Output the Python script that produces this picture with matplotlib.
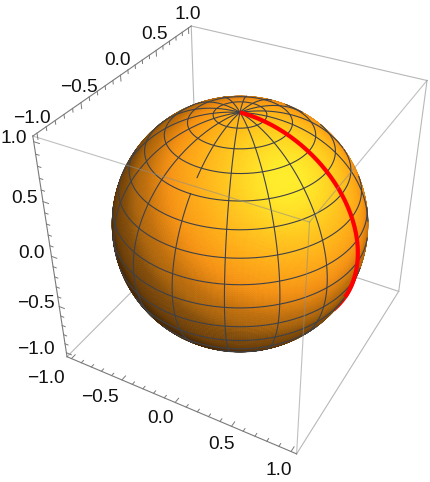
import numpy as np
import matplotlib
matplotlib.use("Agg")
import matplotlib.pyplot as plt
from matplotlib.colors import LinearSegmentedColormap
from mpl_toolkits.mplot3d import proj3d
from mpl_toolkits.mplot3d.art3d import Poly3DCollection

plt.rcParams['font.family'] = ['Liberation Sans', 'DejaVu Sans']

# --- chart content -------------------------------------------------------
major_ticks = [-1.0, -0.5, 0.0, 0.5, 1.0]
major_labels = ['\u22121.0', '\u22120.5', '0.0', '0.5', '1.0']
minor_ticks = [-0.9, -0.8, -0.7, -0.6, -0.4, -0.3, -0.2, -0.1,
               0.1, 0.2, 0.3, 0.4, 0.6, 0.7, 0.8, 0.9]
ring_colatitudes_deg = [11.25, 22.5, 33.75, 45, 56.25, 67.5, 78.75, 90,
                        101.25, 112.5, 123.75, 135, 146.25, 157.5, 168.75]
meridian_longitudes_deg = [0, 22.5, 45, 67.5, 90, 112.5, 135, 157.5, 180,
                           202.5, 225, 247.5, 270, 292.5, 315, 337.5]
gap_longitude_deg = 270
gap_colatitude_deg = [38, 45]
red_curve_longitude_deg = 0

shade_levels = [0.0, 0.12, 0.25, 0.38, 0.50, 0.62, 0.75, 0.88, 1.0]
shade_colors = ['#37200a', '#5f3708', '#96580a', '#cd760c', '#f59112',
                '#ffac16', '#ffcd1e', '#ffeb28', '#fff02d']
light_in = [-0.3, -0.14, 0.0, 0.25, 0.38, 0.49, 0.57, 0.68, 0.9, 1.0]
light_out = [0.05, 0.06, 0.14, 0.21, 0.30, 0.35, 0.42, 0.52, 0.70, 0.80]

# --- camera and layout ---------------------------------------------------
W, H = 431, 482
ELEV, AZIM = 36.0, -61.25
CAM_DIST = 7.16        # sphere radii
FOCAL_PX = 907.0
BOX = 1.045
CENTER_PX = (240.0, 224.0)

fig = plt.figure(figsize=(W / 100, H / 100), dpi=100)
ax = fig.add_axes([0, 0, 1, 1], projection='3d', computed_zorder=False)
ax.set_axis_off()
ax.set_xlim(-BOX, BOX, view_margin=0)
ax.set_ylim(-BOX, BOX, view_margin=0)
ax.set_zlim(-BOX, BOX, view_margin=0)
ax.view_init(elev=ELEV, azim=AZIM)

# place a square axes, then solve focal length and zoom from the camera
side = 482.0
ax.set_position([(W - side) / 2 / W, 0, side / W, 1.0])
ax.apply_aspect()
a, b = ax.transData.transform([[0, 0], [1, 1]])
px_per_unit = (b - a)[0]
focal = FOCAL_PX / px_per_unit
s = 10 * focal / CAM_DIST
zoom = 2 * BOX * s / (1.8294640721620434 * 25 / 24 / np.sqrt(3))
ax.set_proj_type('persp', focal_length=focal)
ax.set_box_aspect((1, 1, 1), zoom=zoom)
ox, oy = a
left = ((W - side) / 2 + (CENTER_PX[0] - ox)) / W
bottom = ((H - CENTER_PX[1]) - oy) / H
ax.set_position([left, bottom, side / W, side / H])
ax.apply_aspect()

# view basis
e, z = np.radians(ELEV), np.radians(AZIM)
n_vec = np.array([np.cos(e) * np.cos(z), np.cos(e) * np.sin(z), np.sin(e)])
r_vec = np.array([-np.sin(z), np.cos(z), 0.0])
u_vec = np.cross(n_vec, r_vec)


def visible(x, y, zz):
    return x * n_vec[0] + y * n_vec[1] + zz * n_vec[2] > 1 / CAM_DIST


# --- sphere --------------------------------------------------------------
th = np.linspace(0, np.pi, 181)
ph = np.linspace(0, 2 * np.pi, 361)
PH, TH = np.meshgrid(ph, th)
X, Y, Z = np.sin(TH) * np.cos(PH), np.sin(TH) * np.sin(PH), np.cos(TH)
P = np.dstack([X, Y, Z])
quads = np.stack([P[:-1, :-1], P[:-1, 1:], P[1:, 1:], P[1:, :-1]], axis=2)
mid = quads.mean(axis=2)
mid /= np.linalg.norm(mid, axis=2, keepdims=True)
nr, nu, nn = mid @ r_vec, mid @ u_vec, mid @ n_vec

shade = LinearSegmentedColormap.from_list('shade', list(zip(shade_levels, shade_colors)))
v = 0.33 * nr + 0.35 * nu + 0.88 * nn
level = np.interp(v, light_in, light_out)
level = level + 0.10 * np.exp(-((nr - 0.31) ** 2 + (nu - 0.27) ** 2) / 0.08)
cols = shade(np.clip(level, 0, 1))
keep = nn > 1 / CAM_DIST - 0.012
surf = Poly3DCollection(quads[keep], facecolors=cols[keep], edgecolors=cols[keep],
                        linewidths=0.4, zorder=2)
ax.add_collection3d(surf, autolim=False)

# --- mesh ----------------------------------------------------------------
MESH = '#3f4148'
t = np.linspace(0, 2 * np.pi, 361)
for c in ring_colatitudes_deg:
    c = np.radians(c)
    x, y, zz = np.sin(c) * np.cos(t), np.sin(c) * np.sin(t), np.cos(c) * np.ones_like(t)
    m = visible(x, y, zz)
    ax.plot(np.where(m, x, np.nan), np.where(m, y, np.nan), np.where(m, zz, np.nan),
            color=MESH, lw=0.8, zorder=3)
t = np.linspace(0, np.pi, 181)
for lon in meridian_longitudes_deg:
    l = np.radians(lon)
    x, y, zz = np.sin(t) * np.cos(l), np.sin(t) * np.sin(l), np.cos(t)
    m = visible(x, y, zz)
    if lon == gap_longitude_deg:
        m &= ~((t > np.radians(gap_colatitude_deg[0])) & (t < np.radians(gap_colatitude_deg[1])))
    ax.plot(np.where(m, x, np.nan), np.where(m, y, np.nan), np.where(m, zz, np.nan),
            color=MESH, lw=0.8, zorder=3)

# red curve: the part just past the horizon peeks out from behind the rim
l = np.radians(red_curve_longitude_deg)
x, y, zz = np.sin(t) * np.cos(l), np.sin(t) * np.sin(l), np.cos(t)
m = visible(x, y, zz)
ax.plot(np.where(m, x, np.nan), np.where(m, y, np.nan), np.where(m, zz, np.nan),
        color='#ff0000', lw=3.0, zorder=4, solid_capstyle='butt')
depth = x * n_vec[0] + y * n_vec[1] + zz * n_vec[2]
m2 = depth > 0
ax.plot(np.where(m2, x, np.nan), np.where(m2, y, np.nan), np.where(m2, zz, np.nan),
        color='#ff0000', lw=3.0, zorder=1.5, solid_capstyle='butt')

# --- box -----------------------------------------------------------------
BACK = (0.72, 0.72, 0.72)
FRONT = (0.55, 0.55, 0.55, 0.55)
AXIS = (0.48, 0.48, 0.48)
q = BOX


def seg(p0, p1, color, order, lw=0.8):
    ax.plot([p0[0], p1[0]], [p0[1], p1[1]], [p0[2], p1[2]], color=color, lw=lw, zorder=order)


A_, B_, G_, E_ = (-q, q, q), (-q, -q, q), (q, -q, q), (q, q, q)
C_, D_, F_, H_ = (-q, -q, -q), (q, -q, -q), (q, q, -q), (-q, q, -q)
for p0, p1 in [(A_, H_), (H_, C_), (H_, F_)]:
    seg(p0, p1, BACK, 1)
for p0, p1 in [(A_, E_), (E_, F_), (D_, F_)]:
    seg(p0, p1, BACK, 1)
for p0, p1 in [(B_, G_), (G_, E_), (G_, D_)]:
    seg(p0, p1, FRONT, 5)
for p0, p1 in [(B_, A_), (B_, C_), (C_, D_)]:
    seg(p0, p1, AXIS, 6)

# ticks: axis edge, position along it, direction of the tick
TMAJ, TMIN = 0.05, 0.03
for tv in major_ticks + minor_ticks:
    L = TMAJ if tv in major_ticks else TMIN
    seg((tv, -q, -q), (tv, -q + L, -q), AXIS, 6, 0.7)      # x axis
    seg((-q, tv, q), (-q, tv, q - L), AXIS, 6, 0.7)        # y axis
    seg((-q, -q, tv), (-q + L, -q, tv), AXIS, 6, 0.7)      # z axis

# --- tick labels ---------------------------------------------------------
x_off = [(-26, -20), (-22, -18), (-15, -16), (-10, -18), (-12, -19)]
y_off = [(-5, 15), (-2, 15), (-3, 15), (-2, 16), (-1, 13)]
z_off = [(-31, 3), (-23, 3), (-20, 3), (-18, 3), (-20, 3)]
for tv, txt, xo, yo, zo in zip(major_ticks, major_labels, x_off, y_off, z_off):
    for pos, off in [((tv, -q, -q), xo), ((-q, tv, q), yo), ((-q, -q, tv), zo)]:
        xp, yp, _ = proj3d.proj_transform(*pos, ax.get_proj())
        ax.annotate(txt, (xp, yp), xytext=off, textcoords='offset pixels',
                    ha='center', va='center', fontsize=13.8, color='#111111',
                    annotation_clip=False, zorder=7)

fig.savefig('out.png', dpi=100)
